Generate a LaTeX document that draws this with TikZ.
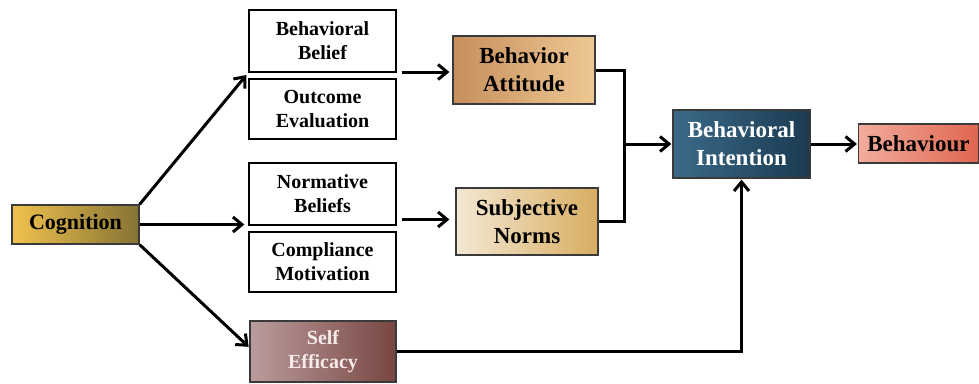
\documentclass[tikz,border=0pt]{standalone}
\usepackage{fontspec}
\setmainfont{Liberation Serif}
\usetikzlibrary{arrows.meta,calc}
\definecolor{cogL}{HTML}{F0C24E}
\definecolor{cogR}{HTML}{857234}
\definecolor{baL}{HTML}{C68F5C}
\definecolor{baR}{HTML}{EEC894}
\definecolor{snL}{HTML}{F3E8D4}
\definecolor{snR}{HTML}{D8AD60}
\definecolor{biL}{HTML}{3A6A88}
\definecolor{biR}{HTML}{1B3A52}
\definecolor{bhL}{HTML}{F2AC9C}
\definecolor{bhR}{HTML}{DF6650}
\definecolor{seL}{HTML}{BA9C9C}
\definecolor{seR}{HTML}{784642}
\definecolor{seT}{HTML}{F6EAEA}
\definecolor{edge}{HTML}{3A3A3A}
\tikzset{
  whitebox/.style={draw=black, line width=1.4pt, fill=white, align=center, inner sep=0pt,
    font=\fontsize{20}{24}\selectfont\bfseries},
  colbox/.style={draw=edge, line width=1.3pt, align=center, inner sep=0pt,
    font=\fontsize{23}{28}\selectfont\bfseries},
  conn/.style={line width=3pt, -{Straight Barb[length=9pt,width=15pt,line width=3pt]}},
  plain/.style={line width=3pt},
}
\begin{document}
\begin{tikzpicture}[x=1pt,y=-1pt]
\path[use as bounding box, fill=white] (0,0) rectangle (979,383);
\node[colbox, left color=cogL, right color=cogR, minimum width=127pt, minimum height=39pt,
  font=\fontsize{22}{26}\selectfont\bfseries] (cog) at (75.5,224.5) {Cognition};
\node[whitebox, minimum width=147pt, minimum height=62pt] (bb) at (322.5,41) {Behavioral\\Belief};
\node[whitebox, minimum width=147pt, minimum height=60pt] (oe) at (322.5,109) {Outcome\\Evaluation};
\node[whitebox, minimum width=147pt, minimum height=62pt] (nb) at (322.5,194) {Normative\\Beliefs};
\node[whitebox, minimum width=147pt, minimum height=60pt] (cm) at (322.5,262) {Compliance\\Motivation};
\node[colbox, left color=seL, right color=seR, text=seT, minimum width=146pt, minimum height=61pt,
  font=\fontsize{20}{24}\selectfont\bfseries] (se) at (323,351.5) {Self\\Efficacy};
\node[colbox, left color=baL, right color=baR, minimum width=142pt, minimum height=68pt] (ba) at (524,70) {Behavior\\Attitude};
\node[colbox, left color=snL, right color=snR, minimum width=142pt, minimum height=67pt] (sn) at (527,221.5) {Subjective\\Norms};
\node[colbox, left color=biL, right color=biR, text=white, minimum width=137pt, minimum height=68pt] (bi) at (741.5,144) {Behavioral\\Intention};
\node[colbox, left color=bhL, right color=bhR, minimum width=120pt, minimum height=39pt] (bh) at (918.5,143.5) {Behaviour};
% connectors
\draw[conn, shorten >=3pt] (cog.north east) -- (bb.south west);
\draw[conn, shorten >=4pt] (cog.east) -- (cog.east -| nb.west);
\draw[conn, shorten >=1pt] (cog.south east) -- ($(se.west)+(0,-4)$);
\draw[conn, shorten >=3pt] ($(ba.west -| bb.east)+(5,2)$) -- ($(ba.west)+(0,2)$);
\draw[conn, shorten >=6pt] ($(sn.west -| nb.east)+(5,-2)$) -- ($(sn.west)+(0,-2)$);
\coordinate (j) at (624,144);
\draw[plain] (ba.east) -- (ba.east -| j) -- (sn.east -| j) -- (sn.east);
\draw[conn, shorten >=1pt] (j) -- (bi.west);
\draw[conn, shorten >=1pt] (bi.east) -- (bi.east -| bh.west);
\draw[conn, shorten >=1pt] (se.east) -- (se.east -| bi.south) -- (bi.south);
\end{tikzpicture}
\end{document}
